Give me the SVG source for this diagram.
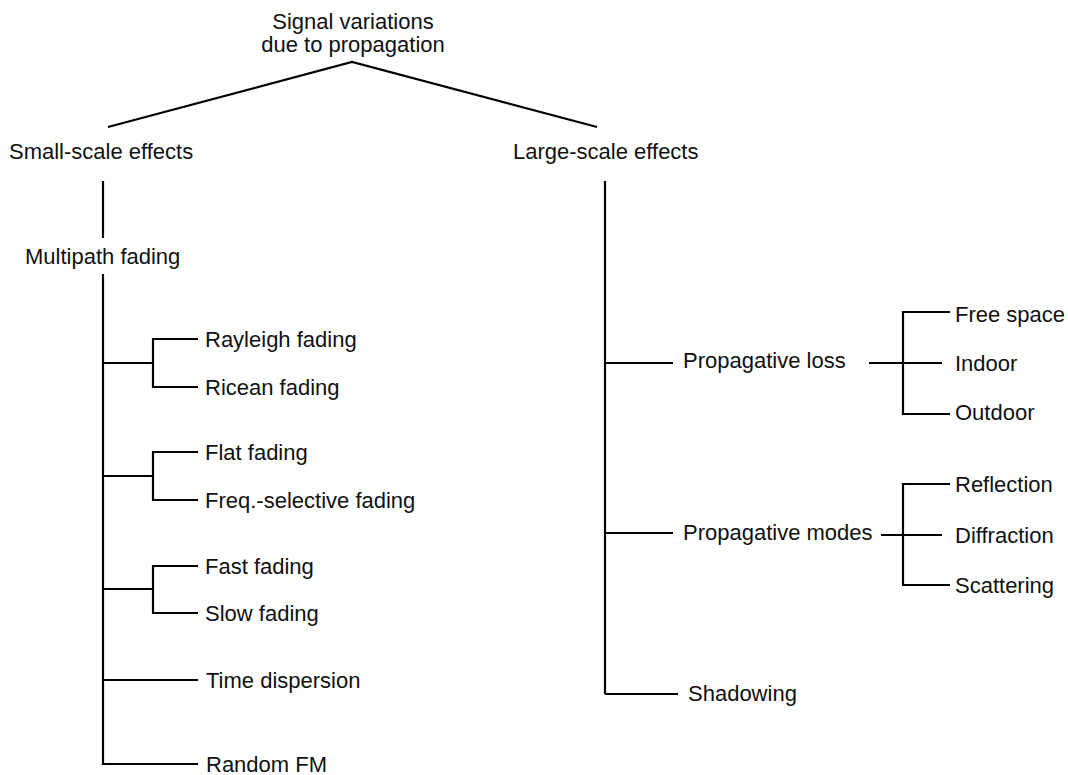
<svg xmlns="http://www.w3.org/2000/svg" width="1068" height="775" viewBox="0 0 1068 775">
<style>
text{font-family:"Liberation Sans",Arial,sans-serif;font-size:22px;fill:#111}
.c{text-anchor:middle}
#connectors path,#connectors line,#connectors polyline{stroke:#000;stroke-width:2.2;fill:none}
</style>
<rect width="1068" height="775" fill="#fff"/>
<g id="connectors">
<polyline points="108,127 352,62 597,127"/>
<line x1="103" y1="181" x2="103" y2="238"/>
<line x1="103" y1="274" x2="103" y2="765"/>
<line x1="102" y1="363" x2="153" y2="363"/>
<polyline points="198,339 153,339 153,387 198,387"/>
<line x1="102" y1="476" x2="153" y2="476"/>
<polyline points="198,452 153,452 153,500 198,500"/>
<line x1="102" y1="589" x2="153" y2="589"/>
<polyline points="198,566 153,566 153,613 198,613"/>
<line x1="102" y1="680" x2="198" y2="680"/>
<polyline points="103,764 198,764"/>
<line x1="605" y1="181" x2="605" y2="694"/>
<line x1="604" y1="363" x2="673" y2="363"/>
<line x1="869" y1="363" x2="942" y2="363"/>
<polyline points="950,312 903,312 903,414 950,414"/>
<line x1="604" y1="533" x2="673" y2="533"/>
<line x1="881" y1="535" x2="942" y2="535"/>
<polyline points="950,484 903,484 903,585 950,585"/>
<polyline points="605,694 678,694"/>
</g>
<g id="root"><text class="c" x="353" y="29">Signal variations</text><text class="c" x="353" y="52">due to propagation</text></g>
<g id="small"><text x="9" y="159">Small-scale effects</text></g>
<g id="large"><text x="513" y="159">Large-scale effects</text></g>
<g id="multipath"><text x="25" y="264">Multipath fading</text></g>
<g id="rayleigh"><text x="205" y="347">Rayleigh fading</text></g>
<g id="ricean"><text x="205" y="395">Ricean fading</text></g>
<g id="flat"><text x="205" y="460">Flat fading</text></g>
<g id="freq"><text x="205" y="508">Freq.-selective fading</text></g>
<g id="fast"><text x="205" y="574">Fast fading</text></g>
<g id="slow"><text x="205" y="621">Slow fading</text></g>
<g id="time"><text x="206" y="688">Time dispersion</text></g>
<g id="randomfm"><text x="206" y="772">Random FM</text></g>
<g id="ploss"><text x="683" y="368">Propagative loss</text></g>
<g id="freespace"><text x="955" y="322">Free space</text></g>
<g id="indoor"><text x="955" y="371">Indoor</text></g>
<g id="outdoor"><text x="955" y="420">Outdoor</text></g>
<g id="pmodes"><text x="683" y="540">Propagative modes</text></g>
<g id="reflection"><text x="955" y="492">Reflection</text></g>
<g id="diffraction"><text x="955" y="543">Diffraction</text></g>
<g id="scattering"><text x="955" y="593">Scattering</text></g>
<g id="shadowing"><text x="688" y="701">Shadowing</text></g>
</svg>
